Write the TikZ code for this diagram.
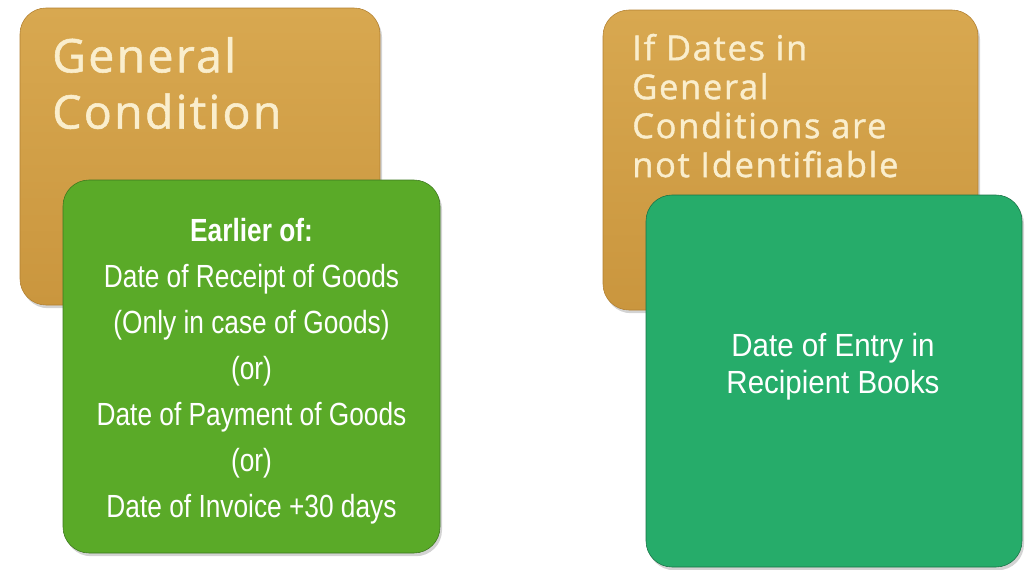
\documentclass[tikz,border=0pt]{standalone}
\usepackage{fontspec}
\usetikzlibrary{shadows}
\newfontfamily\capfont[LetterSpace=5,FakeBold=1.2]{Open Sans}
\newfontfamily\boxfont[FakeStretch=0.82]{Liberation Sans}
\newfontfamily\boxfontw[FakeStretch=0.92]{Liberation Sans}
\definecolor{goldtop}{RGB}{216,168,80}
\definecolor{goldbot}{RGB}{202,150,62}
\definecolor{goldline}{RGB}{178,128,48}
\definecolor{cream}{RGB}{250,238,205}
\definecolor{leafgreen}{RGB}{90,170,40}
\definecolor{leafline}{RGB}{60,120,30}
\definecolor{seagreen}{RGB}{38,172,106}
\definecolor{sealine}{RGB}{25,115,70}
\begin{document}
\begin{tikzpicture}[
  card/.style={rounded corners=0.65cm,inner sep=0pt,
    drop shadow={opacity=0.35,shadow xshift=0.05cm,shadow yshift=-0.08cm}},
  goldcard/.style={card,draw=goldline,top color=goldtop,bottom color=goldbot},
  leafcard/.style={card,draw=leafline,fill=leafgreen},
  seacard/.style={card,draw=sealine,fill=seagreen},
  captext/.style={inner sep=0pt,anchor=north west,align=left,text=cream}]
\useasboundingbox (0,0) rectangle (25.625,-14.225);
\node[goldcard,minimum width=9cm,minimum height=7.425cm] (g1) at (5,-3.9125) {};
\node[captext,font=\capfont\fontsize{33}{40}\selectfont] (t1) at (1.3,-0.92) {General\\Condition};
\node[leafcard,minimum width=9.425cm,minimum height=9.325cm] (e1) at (6.2875,-9.1625) {};
\node[align=center,text=white,font=\boxfont\fontsize{22.8}{32.7}\selectfont] (d1) at (6.2875,-9.29)
  {\textbf{Earlier of:}\\Date of Receipt of Goods\\(Only in case of Goods)\\(or)\\Date of Payment of Goods\\(or)\\Date of Invoice +30 days};
\node[goldcard,minimum width=9.375cm,minimum height=7.5cm] (g2) at (19.7625,-4) {};
\node[captext,font=\capfont\fontsize{24.5}{27.7}\selectfont] (t2) at (15.8,-0.84)
  {If Dates in\\General\\Conditions are\\not Identifiable};
\node[seacard,minimum width=9.4cm,minimum height=9.3cm] (e2) at (20.85,-9.525) {};
\node[align=center,text=white,font=\boxfontw\fontsize{22.8}{26.3}\selectfont] (d2) at (20.825,-9.175)
  {Date of Entry in\\Recipient Books};
\end{tikzpicture}
\end{document}
